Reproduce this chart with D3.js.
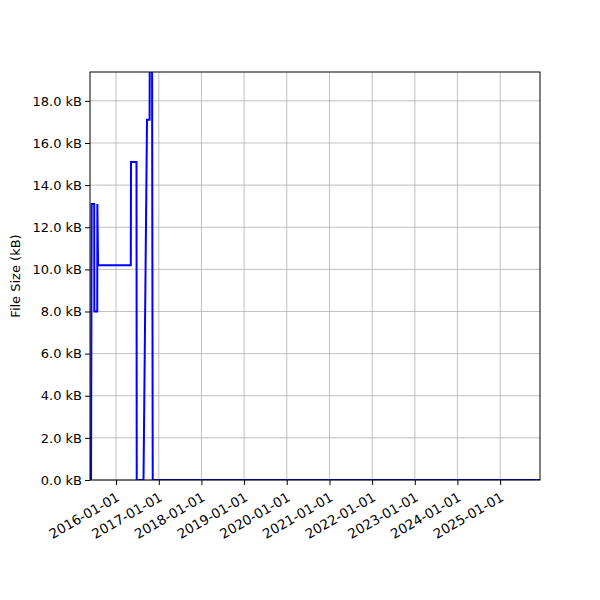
<!DOCTYPE html>
<html>
<head>
<meta charset="utf-8">
<script src="https://cdn.jsdelivr.net/npm/d3@7"></script>
<style>
  body { margin: 0; background: #fff; }
  text { font-family: "DejaVu Sans", sans-serif; }
</style>
</head>
<body>
<div id="chart"></div>
<script>
// file size history (kB)
const dates = [
  "2015-06-01", "2015-06-06", "2015-06-28", "2015-06-29", "2015-07-24", "2015-07-25",
  "2015-07-31", "2016-05-06", "2016-05-08", "2016-06-24", "2016-06-26", "2016-08-23",
  "2016-09-22", "2016-10-14", "2016-10-16", "2016-11-04", "2016-11-10", "2025-12-08"
];
const sizes = [
  0.0, 13.1, 13.1, 8.0, 8.0, 13.1,
  10.2, 10.2, 15.1, 15.1, 0.0, 0.0,
  17.1, 17.1, 21.0, 21.0, 0.0, 0.0
];
const yTicks = [0, 2, 4, 6, 8, 10, 12, 14, 16, 18];
const xTickLabels = ["2016-01-01", "2017-01-01", "2018-01-01", "2019-01-01", "2020-01-01",
                     "2021-01-01", "2022-01-01", "2023-01-01", "2024-01-01", "2025-01-01"];

const width = 600, height = 600;
const margin = {top: 72, right: 60, bottom: 120, left: 90};
const parse = d3.timeParse("%Y-%m-%d");
const data = dates.map((d, i) => ({date: parse(d), value: sizes[i]}));

const svg = d3.select("#chart").append("svg")
    .attr("width", width)
    .attr("height", height);

const x = d3.scaleTime()
    .domain([parse("2015-05-23"), parse("2025-12-08")])
    .range([margin.left, width - margin.right]);
const y = d3.scaleLinear()
    .domain([0, 19.37])
    .range([height - margin.bottom, margin.top]);

svg.append("defs").append("clipPath").attr("id", "clip")
  .append("rect")
    .attr("x", margin.left).attr("y", margin.top)
    .attr("width", width - margin.left - margin.right)
    .attr("height", height - margin.top - margin.bottom);

// grid
const grid = svg.append("g");
grid.selectAll(".vg").data(xTickLabels).enter().append("line")
    .attr("x1", d => x(parse(d))).attr("x2", d => x(parse(d)))
    .attr("y1", margin.top).attr("y2", height - margin.bottom)
    .attr("stroke", "#b0b0b0").attr("stroke-width", 0.8);
grid.selectAll(".hg").data(yTicks).enter().append("line")
    .attr("x1", margin.left).attr("x2", width - margin.right)
    .attr("y1", d => y(d)).attr("y2", d => y(d))
    .attr("stroke", "#b0b0b0").attr("stroke-width", 0.8);

// line
const line = d3.line()
    .x(d => x(d.date))
    .y(d => y(d.value));
svg.append("path")
    .datum(data)
    .attr("clip-path", "url(#clip)")
    .attr("fill", "none")
    .attr("stroke", "blue")
    .attr("stroke-width", 2)
    .attr("stroke-linejoin", "miter")
    .attr("d", line);

// axes
const xAxis = svg.append("g")
    .attr("transform", `translate(0,${height - margin.bottom})`)
    .call(d3.axisBottom(x)
        .tickValues(xTickLabels.map(parse))
        .tickFormat(d3.timeFormat("%Y-%m-%d"))
        .tickSize(5).tickSizeOuter(0));
xAxis.select(".domain").remove();
xAxis.selectAll(".tick line").attr("stroke", "#000");
xAxis.selectAll("text")
    .attr("font-size", 13.5)
    .attr("fill", "#000")
    .attr("text-anchor", "end")
    .attr("dy", null)
    .attr("transform", "translate(0,13) rotate(-30)");

const yAxis = svg.append("g")
    .attr("transform", `translate(${margin.left},0)`)
    .call(d3.axisLeft(y)
        .tickValues(yTicks)
        .tickFormat(d => d.toFixed(1) + " kB")
        .tickSize(5).tickSizeOuter(0));
yAxis.select(".domain").remove();
yAxis.selectAll("text").attr("font-size", 13).attr("fill", "#000").attr("x", -8);

// frame
svg.append("rect")
    .attr("x", margin.left).attr("y", margin.top)
    .attr("width", width - margin.left - margin.right)
    .attr("height", height - margin.top - margin.bottom)
    .attr("fill", "none").attr("stroke", "#000").attr("stroke-width", 1);

svg.append("text")
    .attr("transform", `translate(20,${(margin.top + height - margin.bottom) / 2}) rotate(-90)`)
    .attr("text-anchor", "middle")
    .attr("font-size", 13)
    .text("File Size (kB)");
</script>
</body>
</html>
